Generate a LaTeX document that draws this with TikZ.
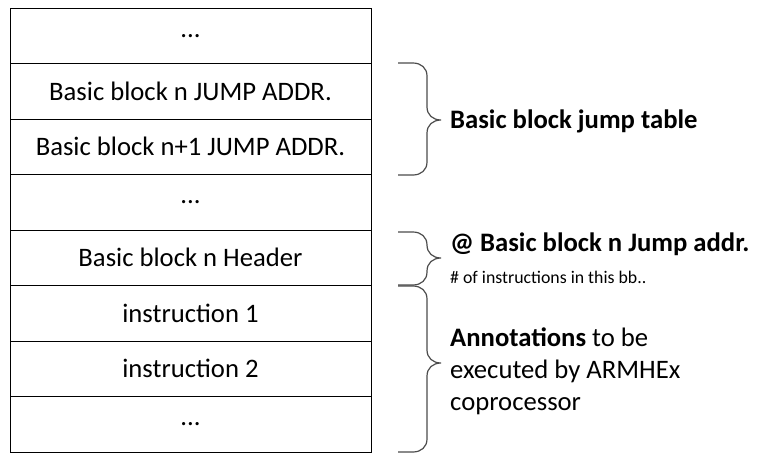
\documentclass[tikz,border=0pt]{standalone}
\usepackage{fontspec}
\setmainfont{Carlito}
\usetikzlibrary{positioning}
\tikzset{
  cell/.style={draw=black,line width=1pt,minimum width=361pt,minimum height=55.5pt,
    inner sep=0pt,outer sep=0pt,font=\fontsize{26.67}{32}\selectfont},
  note/.style={anchor=base west,inner sep=0pt,font=\fontsize{26.67}{32}\selectfont},
  smallnote/.style={anchor=base west,inner sep=0pt,font=\fontsize{17.8}{22}\selectfont},
  bracepath/.style={draw=black!70,line width=1.2pt}
}
\begin{document}
\begin{tikzpicture}[x=1pt,y=-1pt]
        \useasboundingbox (0,0) rectangle (762,453);

        % the memory layout, one cell per row
        \foreach \i/\txt in {
            1/{...},
            2/{Basic block n JUMP ADDR.},
            3/{Basic block n+1 JUMP ADDR.},
            4/{...},
            5/{Basic block n Header},
            6/{instruction 1},
            7/{instruction 2},
            8/{...}}
                \node[cell] (row\i) at (190.5,{8+55.5*(\i-0.5)}) {\txt};

        % the braces on the right side
        \foreach \ya/\yt/\yb in {
            63/120/175,
            232/258/285,
            286/363/452}
                \draw[bracepath] (398,\ya) -- (413,\ya)
                    .. controls (421,\ya) and (427,{\ya+5}) .. (427,{\ya+13})
                    -- (427,{\yt-13})
                    .. controls (427,{\yt-5}) and (433,\yt) .. (441,\yt)
                    .. controls (433,\yt) and (427,{\yt+5}) .. (427,{\yt+13})
                    -- (427,{\yb-13})
                    .. controls (427,{\yb-5}) and (421,\yb) .. (413,\yb)
                    -- (398,\yb);

        % the labels of the braces
        \node[note] (table) at (450,128) {\textbf{Basic block jump table}};
        \node[note] (addr) at (450,251) {\textbf{@ Basic block n Jump addr.}};
        \node[smallnote] (count) at (450,283) {\# of instructions in this bb..};
        \node[note] (ann1) at (450,346) {\textbf{Annotations} to be};
        \node[note] (ann2) at (450,378) {executed by ARMHEx};
        \node[note] (ann3) at (450,410) {coprocessor};
\end{tikzpicture}
\end{document}
